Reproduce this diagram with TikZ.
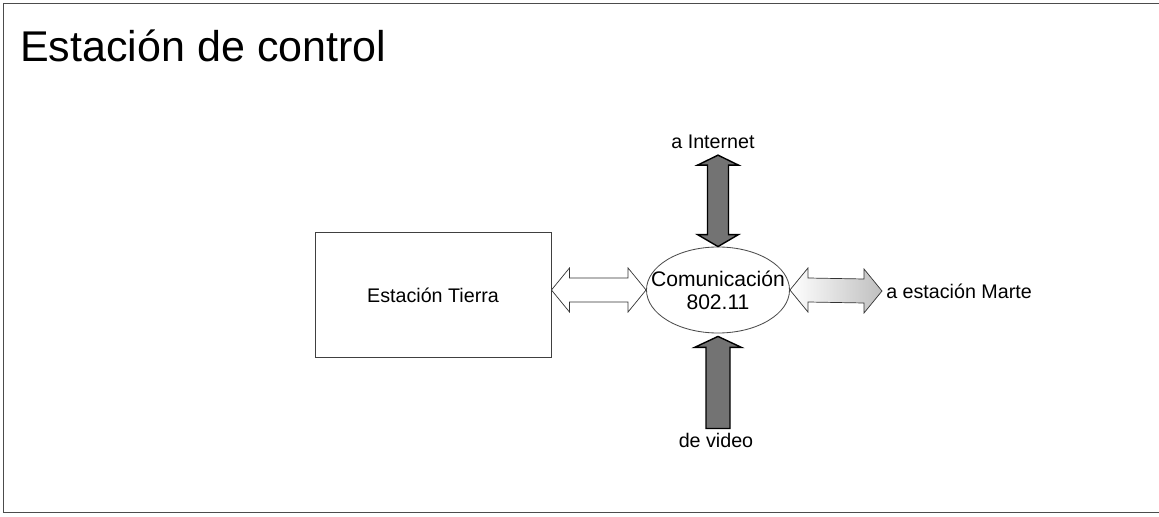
\documentclass[tikz,border=0pt]{standalone}
\usepackage{fontspec}
\setmainfont{Liberation Sans}
\usetikzlibrary{shapes.geometric,calc}

% fat arrows, drawn as outlines between two tips (pixel units, y down)
\newcommand{\hdblarrow}[3]{%
  \draw[#1] (#2) -- ($(#2)+(18,-22)$) -- ($(#2)+(18,-12)$) -- ($(#3)+(-18,-12)$)
    -- ($(#3)+(-18,-22)$) -- (#3) -- ($(#3)+(-18,22)$) -- ($(#3)+(-18,12)$)
    -- ($(#2)+(18,12)$) -- ($(#2)+(18,22)$) -- cycle;}
\newcommand{\vdblarrow}[3]{%
  \draw[#1] (#2) -- ($(#2)+(20.5,10)$) -- ($(#2)+(10.5,10)$) -- ($(#3)+(10.5,-12)$)
    -- ($(#3)+(20.5,-12)$) -- (#3) -- ($(#3)+(-20.5,-12)$) -- ($(#3)+(-10.5,-12)$)
    -- ($(#2)+(-10.5,10)$) -- ($(#2)+(-20.5,10)$) -- cycle;}
\newcommand{\vuparrow}[3]{%
  \draw[#1] (#2) -- ($(#2)+(23.5,11)$) -- ($(#2)+(12,11)$) -- ($(#3)+(12,0)$)
    -- ($(#3)+(-12,0)$) -- ($(#2)+(-12,11)$) -- ($(#2)+(-23.5,11)$) -- cycle;}

\begin{document}
\begin{tikzpicture}[x=0.025cm, y=-0.025cm, font=\fontsize{14}{16}\selectfont,
    frame/.style={draw=black!70, line width=0.5pt},
    flowarrow/.style={draw=black!80, line width=0.5pt, line join=miter},
    darkarrow/.style={draw=black, fill=black!55, line width=1pt, line join=miter},
    lbl/.style={inner sep=0pt}]
  \useasboundingbox (0,0) rectangle (1159,517);
  % frame
  \draw[frame] (3,3) -- (1159,3);
  \draw[frame] (3,3) -- (3,512);
  \draw[frame] (3,512) -- (1159,512);

  \node[lbl, anchor=base west, font=\fontsize{30.6}{34}\selectfont] (title) at (20,62) {Estación de control};

  \node[draw=black!75, line width=0.6pt, minimum width=5.9cm, minimum height=3.125cm] (tierra) at (433,295) {Estación Tierra};
  \node[ellipse, draw=black!70, line width=0.6pt, inner sep=0pt, minimum width=3.575cm, minimum height=2.15cm] (com) at (718,290) {};
  \node[lbl, align=center, font=\fontsize{15}{16.5}\selectfont] (comtext) at (com.center) {Comunicación\\802.11};
  \node[lbl, anchor=west] (marte) at (886,291) {a estación Marte};
  \node[lbl] (inet) at (713,142) {a Internet};
  \node[lbl] (video) at (716,440) {de video};

  \coordinate (lefttip) at (tierra.east |- com.west);
  \coordinate (martetip) at ($(marte.west)+(-4,0)$);
  \coordinate (inettip) at ($(com.north |- inet.south)+(0,6)$);
  \coordinate (videobase) at ($(com.south |- video.north)+(0,-4)$);
  \coordinate (videotip) at ($(com.south)+(0,3)$);

  \hdblarrow{flowarrow, fill=white}{lefttip}{com.west}
  \hdblarrow{flowarrow, left color=white, middle color=white, right color=black!25}{com.east}{martetip}
  \vdblarrow{darkarrow}{inettip}{com.north}
  \vuparrow{darkarrow}{videotip}{videobase}
\end{tikzpicture}
\end{document}
